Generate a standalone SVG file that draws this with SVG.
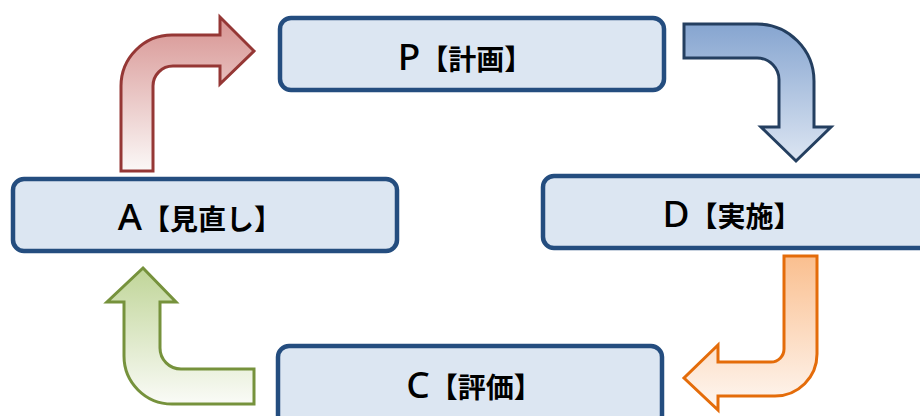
<svg xmlns="http://www.w3.org/2000/svg" width="920" height="416" viewBox="0 0 920 416">
<defs>
<linearGradient id="gRed" x1="0" y1="0" x2="0" y2="1">
<stop offset="0" stop-color="#D79391"/>
<stop offset="1" stop-color="#FBF8F7"/>
</linearGradient>
<linearGradient id="gBlue" x1="0" y1="0" x2="0" y2="1">
<stop offset="0" stop-color="#86A5D0"/>
<stop offset="1" stop-color="#DCE5F2"/>
</linearGradient>
<linearGradient id="gOrange" x1="0" y1="0" x2="0" y2="1">
<stop offset="0" stop-color="#FABF8F"/>
<stop offset="1" stop-color="#FEF7F2"/>
</linearGradient>
<linearGradient id="gGreen" x1="0" y1="0" x2="0" y2="1">
<stop offset="0" stop-color="#C0D598"/>
<stop offset="1" stop-color="#FAFBF7"/>
</linearGradient>
</defs>
<style>
.box{fill:#DCE6F2;stroke:#244D7F;stroke-width:4.5}
.lbl{font-family:"Noto Sans CJK JP","Noto Sans",sans-serif;font-size:28px;font-weight:bold;fill:#000;text-anchor:middle}
.ltr{font-family:"Noto Sans","Liberation Sans",sans-serif;font-size:37px;font-weight:500}
.arr{stroke-width:3;stroke-linejoin:miter}
</style>
<g id="connectors">
<path class="arr" fill="url(#gRed)" stroke="#953735" d="M121,171 L121,86 A51,51 0 0 1 172,35 L220,35 L220,17 L254,51 L220,84 L220,66 L173,66 A20,20 0 0 0 153,86 L153,171 Z"/>
<path class="arr" fill="url(#gBlue)" stroke="#243F60" d="M684,24 L757,24 A57,57 0 0 1 814,81 L814,127 L831,127 L796,161 L761,127 L779,127 L779,81 A22,22 0 0 0 757,58 L684,58 Z"/>
<path class="arr" fill="url(#gOrange)" stroke="#E46C0A" d="M784,256 L817,256 L817,354 A42,42 0 0 1 775,396 L718,396 L718,410 L684,378 L718,345 L718,362 L771,362 A13,13 0 0 0 784,349 Z"/>
<path class="arr" fill="url(#gGreen)" stroke="#76923C" d="M143,268 L176,302 L160,302 L160,348 A21,21 0 0 0 181,369 L254,369 L254,404 L172,404 A48,48 0 0 1 124,356 L124,302 L107,302 Z"/>
</g>
<g id="nodeP">
<rect class="box" x="280" y="18" width="384" height="72" rx="11"/>
<text class="lbl" x="465" y="70"><tspan class="ltr">P</tspan>【計画】</text>
</g>
<g id="nodeD">
<rect class="box" x="543" y="176" width="390" height="72" rx="11"/>
<text class="lbl" x="732" y="227"><tspan class="ltr">D</tspan>【実施】</text>
</g>
<g id="nodeC">
<rect class="box" x="278" y="346" width="384" height="80" rx="11"/>
<text class="lbl" x="474" y="398"><tspan class="ltr">C</tspan>【評価】</text>
</g>
<g id="nodeA">
<rect class="box" x="13" y="179" width="384" height="72" rx="11"/>
<text class="lbl" x="200" y="230"><tspan class="ltr">A</tspan>【見直し】</text>
</g>
</svg>
